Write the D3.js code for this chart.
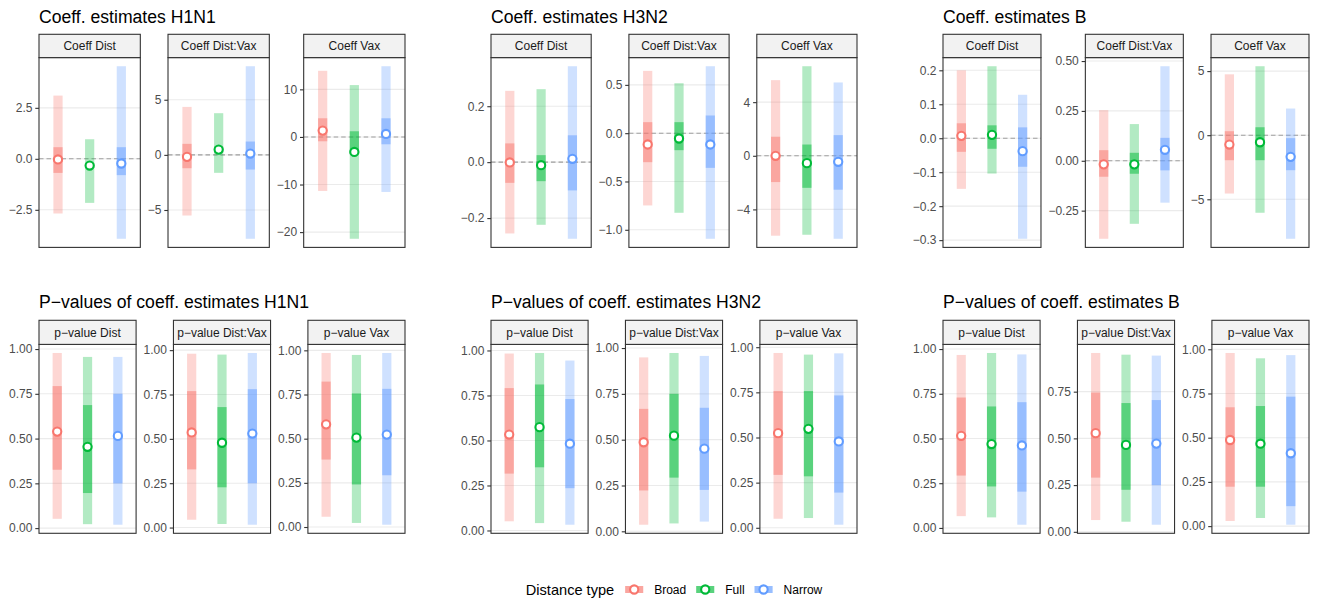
<!DOCTYPE html>
<html>
<head>
<meta charset="utf-8">
<script src="https://cdn.jsdelivr.net/npm/d3@7"></script>
<style>
  body { margin: 0; background: #fff; }
  svg { font-family: "Liberation Sans", Arial, sans-serif; }
</style>
</head>
<body>
<script>
// sizes of the page and the plot areas
var width = 1317, height = 599;
var tickLen = 3.7, tickPad = 2.9, panelGap = 7.4;
var axisFont = 12, stripFont = 12;

// categories
var types = ["Broad", "Full", "Narrow"];
var terms = ["Dist", "Dist:Vax", "Vax"];
var strains = ["H1N1", "H3N2", "B"];
var typeColors = ["#F8766D", "#00BA38", "#619CFF"];

// rows: term, type, low, low50, estimate, high50, high
var coefH1N1 = [
  ["Dist", "Broad", -2.68, -0.69, -0.03, 0.57, 3.10],
  ["Dist", "Full", -2.16, -0.45, -0.33, -0.21, 0.96],
  ["Dist", "Narrow", -3.92, -0.80, -0.23, 0.57, 4.54],
  ["Dist:Vax", "Broad", -5.50, -1.21, -0.18, 1.00, 4.35],
  ["Dist:Vax", "Full", -1.63, 0.20, 0.48, 0.75, 3.78],
  ["Dist:Vax", "Narrow", -7.61, -1.33, 0.12, 1.21, 8.04],
  ["Vax", "Broad", -11.35, -0.91, 1.33, 3.92, 13.9],
  ["Vax", "Full", -21.4, -3.5, -3.15, 1.19, 10.9],
  ["Vax", "Narrow", -11.56, -1.54, 0.63, 3.92, 14.86]
];
var coefH3N2 = [
  ["Dist", "Broad", -0.255, -0.074, -0.001, 0.067, 0.255],
  ["Dist", "Full", -0.224, -0.068, -0.011, 0.025, 0.261],
  ["Dist", "Narrow", -0.274, -0.101, 0.012, 0.096, 0.343],
  ["Dist:Vax", "Broad", -0.748, -0.30, -0.117, 0.114, 0.645],
  ["Dist:Vax", "Full", -0.824, -0.176, -0.055, 0.114, 0.517],
  ["Dist:Vax", "Narrow", -1.093, -0.359, -0.117, 0.183, 0.693],
  ["Vax", "Broad", -5.96, -1.96, 0.0, 1.42, 5.64],
  ["Vax", "Full", -5.89, -2.39, -0.55, 0.84, 6.68],
  ["Vax", "Narrow", -6.19, -2.53, -0.45, 1.54, 5.47]
];
var coefB = [
  ["Dist", "Broad", -0.149, -0.040, 0.007, 0.044, 0.200],
  ["Dist", "Full", -0.104, -0.031, 0.010, 0.038, 0.212],
  ["Dist", "Narrow", -0.296, -0.084, -0.038, 0.032, 0.128],
  ["Dist:Vax", "Broad", -0.391, -0.080, -0.018, 0.053, 0.254],
  ["Dist:Vax", "Full", -0.316, -0.065, -0.018, 0.040, 0.184],
  ["Dist:Vax", "Narrow", -0.210, -0.048, 0.055, 0.115, 0.474],
  ["Vax", "Broad", -4.55, -1.95, -0.73, 0.31, 4.75],
  ["Vax", "Full", -6.05, -1.95, -0.55, 0.62, 5.38],
  ["Vax", "Narrow", -8.08, -2.73, -1.69, -0.23, 2.08]
];
var pvalH1N1 = [
  ["Dist", "Broad", 0.052, 0.326, 0.539, 0.793, 0.978],
  ["Dist", "Full", 0.022, 0.196, 0.454, 0.687, 0.956],
  ["Dist", "Narrow", 0.019, 0.250, 0.515, 0.750, 0.956],
  ["Dist:Vax", "Broad", 0.044, 0.328, 0.536, 0.769, 0.980],
  ["Dist:Vax", "Full", 0.020, 0.227, 0.478, 0.679, 0.975],
  ["Dist:Vax", "Narrow", 0.016, 0.250, 0.530, 0.780, 0.984],
  ["Vax", "Broad", 0.058, 0.382, 0.581, 0.823, 0.985],
  ["Vax", "Full", 0.023, 0.241, 0.506, 0.756, 0.974],
  ["Vax", "Narrow", 0.013, 0.293, 0.523, 0.782, 0.985]
];
var pvalH3N2 = [
  ["Dist", "Broad", 0.051, 0.316, 0.533, 0.791, 0.983],
  ["Dist", "Full", 0.041, 0.351, 0.574, 0.811, 0.986],
  ["Dist", "Narrow", 0.032, 0.235, 0.482, 0.730, 0.944],
  ["Dist:Vax", "Broad", 0.036, 0.223, 0.486, 0.668, 0.949],
  ["Dist:Vax", "Full", 0.043, 0.293, 0.522, 0.750, 0.973],
  ["Dist:Vax", "Narrow", 0.053, 0.226, 0.451, 0.674, 0.957],
  ["Vax", "Broad", 0.050, 0.293, 0.524, 0.757, 0.968],
  ["Vax", "Full", 0.054, 0.285, 0.548, 0.757, 0.959],
  ["Vax", "Narrow", 0.017, 0.195, 0.478, 0.733, 0.966]
];
var pvalB = [
  ["Dist", "Broad", 0.066, 0.293, 0.515, 0.729, 0.967],
  ["Dist", "Full", 0.059, 0.232, 0.469, 0.679, 0.978],
  ["Dist", "Narrow", 0.018, 0.203, 0.461, 0.703, 0.970],
  ["Dist:Vax", "Broad", 0.063, 0.290, 0.528, 0.745, 0.957],
  ["Dist:Vax", "Full", 0.054, 0.225, 0.465, 0.689, 0.948],
  ["Dist:Vax", "Narrow", 0.038, 0.250, 0.472, 0.705, 0.943],
  ["Vax", "Broad", 0.029, 0.223, 0.487, 0.672, 0.979],
  ["Vax", "Full", 0.046, 0.223, 0.466, 0.679, 0.949],
  ["Vax", "Narrow", 0.008, 0.113, 0.412, 0.732, 0.967]
];

// tick values, one list per facet (Dist, Dist:Vax, Vax)
var ticksCoefH1N1 = [[-2.5, 0, 2.5], [-5, 0, 5], [-20, -10, 0, 10]];
var ticksCoefH3N2 = [[-0.2, 0, 0.2], [-1.0, -0.5, 0, 0.5], [-4, 0, 4]];
var ticksCoefB = [[-0.3, -0.2, -0.1, 0, 0.1, 0.2], [-0.25, 0, 0.25, 0.5], [-5, 0, 5]];
var ticksP = [0, 0.25, 0.5, 0.75, 1];
var ticksPvalH1N1 = [ticksP, ticksP, ticksP];
var ticksPvalH3N2 = [ticksP, ticksP, ticksP];
var ticksPvalB = [ticksP, [0, 0.25, 0.5, 0.75], ticksP];

var groups = [
  { title: "Coeff. estimates H1N1", strip: "Coeff ", rows: coefH1N1, ticks: ticksCoefH1N1, zero: true, row: 0, col: 0 },
  { title: "Coeff. estimates H3N2", strip: "Coeff ", rows: coefH3N2, ticks: ticksCoefH3N2, zero: true, row: 0, col: 1 },
  { title: "Coeff. estimates B", strip: "Coeff ", rows: coefB, ticks: ticksCoefB, zero: true, row: 0, col: 2 },
  { title: "P\u2212values of coeff. estimates H1N1", strip: "p\u2212value ", rows: pvalH1N1, ticks: ticksPvalH1N1, zero: false, row: 1, col: 0 },
  { title: "P\u2212values of coeff. estimates H3N2", strip: "p\u2212value ", rows: pvalH3N2, ticks: ticksPvalH3N2, zero: false, row: 1, col: 1 },
  { title: "P\u2212values of coeff. estimates B", strip: "p\u2212value ", rows: pvalB, ticks: ticksPvalB, zero: false, row: 1, col: 2 }
];

// vertical layout of the two rows
var rowLayout = [
  { title: 23, stripTop: 34.3, panelTop: 57.6, panelBottom: 247.4 },
  { title: 308, stripTop: 320.3, panelTop: 344.4, panelBottom: 533.3 }
];
var colLeft = 39, colStep = 452, colWidth = 366;

var svg = d3.select('body').append('svg').attr('width', width).attr('height', height);

var measurer = svg.append('text').attr('visibility', 'hidden');
function textWidth(s, size) {
  measurer.attr('font-size', size + 'px').text(s);
  return measurer.node().getComputedTextLength();
}

function decimals(v) {
  var s = String(v);
  return s.indexOf('.') < 0 ? 0 : s.split('.')[1].length;
}
function tickFormatter(ticks) {
  var dp = d3.max(ticks, decimals);
  return d => d.toFixed(dp).replace('-', '\u2212');
}

groups.forEach(g => {
  var L = colLeft + g.col * colStep;
  var lay = rowLayout[g.row];

  // gaps before facet 2 and 3 depend on their axis label width
  var gaps = [1, 2].map(k => {
    var f = tickFormatter(g.ticks[k]);
    return d3.max(g.ticks[k], t => textWidth(f(t), axisFont)) + tickLen + tickPad + panelGap;
  });
  var pw = (colWidth - gaps[0] - gaps[1]) / 3;
  var lefts = [L, L + pw + gaps[0], L + 2 * pw + gaps[0] + gaps[1]];

  svg.append('text').attr('x', L).attr('y', lay.title)
    .attr('font-size', '17.6px').attr('fill', '#000').text(g.title);

  terms.forEach((term, k) => {
    var rows = g.rows.filter(r => r[0] == term);
    var lo = d3.min(rows, r => r[2]), hi = d3.max(rows, r => r[6]);
    if (g.zero) { lo = Math.min(lo, 0); hi = Math.max(hi, 0); }
    var pad = (hi - lo) * 0.05;
    var y = d3.scaleLinear().domain([lo - pad, hi + pad]).range([lay.panelBottom, lay.panelTop]);
    var x = d3.scalePoint().domain(types).range([0, pw]).padding(0.6);

    var p = svg.append('g').attr('transform', 'translate(' + lefts[k] + ',0)');

    // grid
    p.selectAll('.grid').data(g.ticks[k]).enter().append('line')
      .attr('x1', 0).attr('x2', pw)
      .attr('y1', d => y(d)).attr('y2', d => y(d))
      .attr('stroke', '#EBEBEB').attr('stroke-width', 1.1);

    if (g.zero) {
      p.append('line').attr('x1', 0).attr('x2', pw)
        .attr('y1', y(0)).attr('y2', y(0))
        .attr('stroke', '#9E9E9E').attr('stroke-width', 1.1)
        .attr('stroke-dasharray', '4.5,3');
    }

    // wide interval
    p.selectAll('.wide').data(rows).enter().append('rect')
      .attr('x', d => x(d[1]) - 4.6).attr('width', 9.2)
      .attr('y', d => y(d[6])).attr('height', d => y(d[2]) - y(d[6]))
      .attr('fill', d => typeColors[types.indexOf(d[1])]).attr('fill-opacity', 0.3);
    // narrow interval
    p.selectAll('.narrow').data(rows).enter().append('rect')
      .attr('x', d => x(d[1]) - 4.6).attr('width', 9.2)
      .attr('y', d => y(d[5])).attr('height', d => y(d[3]) - y(d[5]))
      .attr('fill', d => typeColors[types.indexOf(d[1])]).attr('fill-opacity', 0.5);
    // estimates
    p.selectAll('.est').data(rows).enter().append('circle')
      .attr('cx', d => x(d[1])).attr('cy', d => y(d[4])).attr('r', 4.1)
      .attr('fill', '#fff').attr('stroke-width', 2.1)
      .attr('stroke', d => typeColors[types.indexOf(d[1])]);

    // panel border
    p.append('rect').attr('x', 0).attr('y', lay.panelTop)
      .attr('width', pw).attr('height', lay.panelBottom - lay.panelTop)
      .attr('fill', 'none').attr('stroke', '#333').attr('stroke-width', 1.1);

    // strip
    p.append('rect').attr('x', 0).attr('y', lay.stripTop)
      .attr('width', pw).attr('height', lay.panelTop - lay.stripTop)
      .attr('fill', '#F2F2F2').attr('stroke', '#333').attr('stroke-width', 1.1);
    p.append('text').attr('x', pw / 2).attr('y', (lay.stripTop + lay.panelTop) / 2 + 4.2)
      .attr('text-anchor', 'middle').attr('font-size', stripFont + 'px').attr('fill', '#1A1A1A')
      .text(g.strip + term);

    // y axis
    var ax = p.append('g').call(d3.axisLeft(y).tickValues(g.ticks[k])
      .tickSize(tickLen).tickPadding(tickPad).tickFormat(tickFormatter(g.ticks[k])));
    ax.select('.domain').remove();
    ax.selectAll('line').attr('stroke', '#333').attr('stroke-width', 1.1);
    ax.selectAll('text').attr('fill', '#4D4D4D').attr('font-size', axisFont + 'px')
      .attr('font-family', '"Liberation Sans", Arial, sans-serif');
  });
});

// legend
var legY = 589.5;
var keyW = 18, keyH = 7;
var legTitle = "Distance type";
var parts = [textWidth(legTitle, 14.6) + 11];
types.forEach(t => parts.push(keyW + 11 + textWidth(t, 12) + 10));
var legWidth = d3.sum(parts) - 10;
var lx = 674 - legWidth / 2;
var leg = svg.append('g');
leg.append('text').attr('x', lx).attr('y', legY + 5).attr('font-size', '14.6px').attr('fill', '#000').text(legTitle);
var cx = lx + parts[0];
types.forEach((t, i) => {
  var kg = leg.append('g').attr('transform', 'translate(' + cx + ',' + legY + ')');
  kg.append('rect').attr('x', 0).attr('y', -keyH / 2).attr('width', keyW).attr('height', keyH)
    .attr('fill', typeColors[i]).attr('fill-opacity', 0.3);
  kg.append('rect').attr('x', 0).attr('y', -keyH / 2).attr('width', keyW).attr('height', keyH)
    .attr('fill', typeColors[i]).attr('fill-opacity', 0.5);
  kg.append('circle').attr('cx', keyW / 2).attr('cy', 0).attr('r', 4.1)
    .attr('fill', '#fff').attr('stroke', typeColors[i]).attr('stroke-width', 2.1);
  kg.append('text').attr('x', keyW + 11).attr('y', 4.2).attr('font-size', '12px').attr('fill', '#000').text(t);
  cx += parts[i + 1];
});
measurer.remove();
</script>
</body>
</html>
